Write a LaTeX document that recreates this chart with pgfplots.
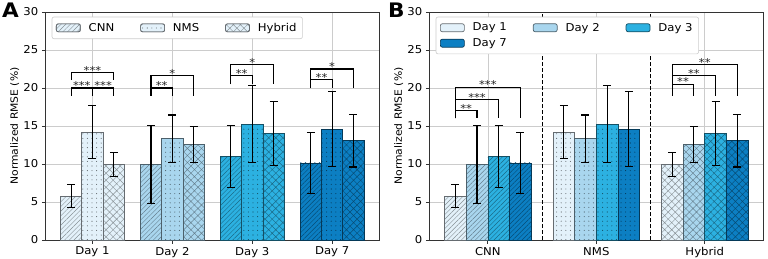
\documentclass[border=0pt]{standalone}
\usepackage{fontspec}
\setmainfont{DejaVu Sans}[FakeStretch=1.08]
\usepackage{pgfplots}
\pgfplotsset{compat=1.18}
\usetikzlibrary{patterns.meta}

\definecolor{dA}{HTML}{E3F1FA}
\definecolor{dB}{HTML}{A9D6EE}
\definecolor{dC}{HTML}{2CB1E1}
\definecolor{dD}{HTML}{0C7FC3}

\tikzset{
  pL/.style={postaction={pattern={Lines[angle=45,distance=3.3pt,line width=0.45pt]},pattern color=#1!60!black}},
  pD/.style={postaction={pattern={Dots[distance=4.6pt,radius=0.55pt]},pattern color=#1!45!black}},
  pX/.style={postaction={pattern={Hatch[angle=45,distance=5pt,line width=0.45pt]},pattern color=#1!60!black}},
  pN/.style={},
  sig/.style={font=\fontsize{10.8}{12}\selectfont, anchor=base, inner sep=0pt, yshift=-1.7pt, text=black!85},
}

\pgfplotsset{
  mybar/.style n args={3}{ybar, bar width=#2, bar shift=0pt, fill=#1, draw=#1!45!black, line width=0.7pt, #3=#1, forget plot,
    error bars/.cd, y dir=both, y explicit, error mark=|,
    error bar style={black,line width=1.1pt},
    error mark options={black,line width=1.1pt,mark size=4pt}},
  brk/.style={black, line width=1.1pt, forget plot, mark=none},
  panel/.style={scale only axis, width=334pt, height=228pt, anchor=south west,
    ymin=0, ymax=30, ytick={0,5,...,30},
    grid=major, major grid style={black!20, line width=0.6pt},
    axis line style={black!80, line width=0.8pt},
    tick align=outside, xtick pos=bottom, ytick pos=left,
    major tick length=3.5pt, tick style={black!80, line width=0.8pt},
    tick label style={font=\fontsize{10.8}{13}\selectfont},
    /pgf/number format/assume math mode=true,
    ylabel={Normalized RMSE (\%)},
    every axis y label/.style={at={(axis description cs:0,0.5)}, xshift=-30.6pt, rotate=90, anchor=center, font=\fontsize{10}{12}\selectfont},
    legend cell align=left,
    legend image code/.code={\draw[##1] (0pt,-4pt) rectangle (24pt,4pt);},
    legend style={at={(0,1)}, anchor=north west, xshift=6.4pt, yshift=-4.7pt,
      draw=black!20, rounded corners=2pt, fill=white, line width=0.6pt,
      font=\fontsize{10.8}{13}\selectfont, inner xsep=4pt, inner ysep=4pt, row sep=2pt,
      /tikz/every even column/.append style={column sep=24pt},
      /tikz/every odd column/.append style={column sep=6pt}},
  },
}

\begin{document}
\begin{tikzpicture}
\path[use as bounding box] (0,0) rectangle (768pt,258pt);

% ---------------- Panel A ----------------
\begin{axis}[panel, at={(45.3pt,18pt)},
  xmin=-0.59, xmax=3.59, xtick={0,1,2,3}, xticklabels={Day 1,Day 2,Day 3,Day 7},
  legend columns=3]
\addlegendimage{fill=dA, draw=dA!45!black, line width=0.7pt, pL=dA}\addlegendentry{CNN}
\addlegendimage{fill=dA, draw=dA!45!black, line width=0.7pt, pD=dA}\addlegendentry{NMS}
\addlegendimage{fill=dA, draw=dA!45!black, line width=0.7pt, pX=dA}\addlegendentry{Hybrid}
% Day 1
\addplot[mybar={dA}{0.2667}{pL}] coordinates {(-0.2667,5.75) +- (0,1.5)};
\addplot[mybar={dA}{0.2667}{pD}] coordinates {(0,14.2) +- (0,3.45)};
\addplot[mybar={dA}{0.2667}{pX}] coordinates {(0.2667,9.95) +- (0,1.55)};
% Day 2
\addplot[mybar={dB}{0.2667}{pL}] coordinates {(0.7333,9.95) +- (0,5.1)};
\addplot[mybar={dB}{0.2667}{pD}] coordinates {(1,13.35) +- (0,3.1)};
\addplot[mybar={dB}{0.2667}{pX}] coordinates {(1.2667,12.55) +- (0,2.4)};
% Day 3
\addplot[mybar={dC}{0.2667}{pL}] coordinates {(1.7333,11.0) +- (0,4.1)};
\addplot[mybar={dC}{0.2667}{pD}] coordinates {(2,15.25) +- (0,5.1)};
\addplot[mybar={dC}{0.2667}{pX}] coordinates {(2.2667,14.0) +- (0,4.2)};
% Day 7
\addplot[mybar={dD}{0.2667}{pL}] coordinates {(2.7333,10.15) +- (0,4.0)};
\addplot[mybar={dD}{0.2667}{pD}] coordinates {(3,14.6) +- (0,4.9)};
\addplot[mybar={dD}{0.2667}{pX}] coordinates {(3.2667,13.05) +- (0,3.45)};
% brackets Day 1
\addplot[brk] coordinates {(-0.2667,19)(-0.2667,20)(0.2667,20)(0.2667,19)};
\addplot[brk] coordinates {(0,19)(0,20)};
\addplot[brk] coordinates {(-0.2667,21.05)(-0.2667,22)(0.2667,22)(0.2667,21.05)};
\node[sig] at (axis cs:-0.1333,20) {***};
\node[sig] at (axis cs:0.1333,20) {***};
\node[sig] at (axis cs:0,22) {***};
% Day 2
\addplot[brk] coordinates {(0.7333,19)(0.7333,20)(1,20)(1,19)};
\addplot[brk] coordinates {(0.7333,19)(0.7333,21.6)(1.2667,21.6)(1.2667,19)};
\node[sig] at (axis cs:0.8667,20) {**};
\node[sig] at (axis cs:1,21.6) {*};
% Day 3
\addplot[brk] coordinates {(1.7333,20.5)(1.7333,21.6)(2,21.6)(2,20.5)};
\addplot[brk] coordinates {(1.7333,20.5)(1.7333,23.07)(2.2667,23.07)(2.2667,20.5)};
\node[sig] at (axis cs:1.8667,21.6) {**};
\node[sig] at (axis cs:2,23.07) {*};
% Day 7
\addplot[brk] coordinates {(2.7333,20)(2.7333,21.1)(3,21.1)(3,20)};
\addplot[brk] coordinates {(2.7333,20)(2.7333,22.5)(3.2667,22.5)(3.2667,20)};
\node[sig] at (axis cs:2.8667,21.1) {**};
\node[sig] at (axis cs:3,22.5) {*};
\end{axis}

% ---------------- Panel B ----------------
\begin{axis}[panel, at={(429.3pt,18pt)},
  xmin=-0.54, xmax=2.54, xtick={0,1,2}, xticklabels={CNN,NMS,Hybrid},
  legend columns=3]
\addlegendimage{fill=dA, draw=dA!45!black, line width=0.7pt}\addlegendentry{Day 1}
\addlegendimage{fill=dB, draw=dB!45!black, line width=0.7pt}\addlegendentry{Day 2}
\addlegendimage{fill=dC, draw=dC!45!black, line width=0.7pt}\addlegendentry{Day 3}
\addlegendimage{fill=dD, draw=dD!45!black, line width=0.7pt}\addlegendentry{Day 7}
\addplot[black, line width=1.1pt, dash pattern=on 4pt off 2pt, forget plot] coordinates {(0.5,0)(0.5,30)};
\addplot[black, line width=1.1pt, dash pattern=on 4pt off 2pt, forget plot] coordinates {(1.5,0)(1.5,30)};
% CNN
\addplot[mybar={dA}{0.2}{pL}] coordinates {(-0.3,5.75) +- (0,1.5)};
\addplot[mybar={dB}{0.2}{pL}] coordinates {(-0.1,9.95) +- (0,5.1)};
\addplot[mybar={dC}{0.2}{pL}] coordinates {(0.1,11.0) +- (0,4.1)};
\addplot[mybar={dD}{0.2}{pL}] coordinates {(0.3,10.15) +- (0,4.0)};
% NMS
\addplot[mybar={dA}{0.2}{pD}] coordinates {(0.7,14.2) +- (0,3.45)};
\addplot[mybar={dB}{0.2}{pD}] coordinates {(0.9,13.35) +- (0,3.1)};
\addplot[mybar={dC}{0.2}{pD}] coordinates {(1.1,15.25) +- (0,5.1)};
\addplot[mybar={dD}{0.2}{pD}] coordinates {(1.3,14.6) +- (0,4.9)};
% Hybrid
\addplot[mybar={dA}{0.2}{pX}] coordinates {(1.7,9.95) +- (0,1.55)};
\addplot[mybar={dB}{0.2}{pX}] coordinates {(1.9,12.55) +- (0,2.4)};
\addplot[mybar={dC}{0.2}{pX}] coordinates {(2.1,14.0) +- (0,4.2)};
\addplot[mybar={dD}{0.2}{pX}] coordinates {(2.3,13.05) +- (0,3.45)};
% brackets CNN
\addplot[brk] coordinates {(-0.3,16)(-0.3,17)(-0.1,17)(-0.1,16)};
\addplot[brk] coordinates {(-0.3,16)(-0.3,18.5)(0.1,18.5)(0.1,16)};
\addplot[brk] coordinates {(-0.3,16)(-0.3,20.1)(0.3,20.1)(0.3,16)};
\node[sig] at (axis cs:-0.2,17) {**};
\node[sig] at (axis cs:-0.1,18.5) {***};
\node[sig] at (axis cs:0,20.1) {***};
% brackets Hybrid
\addplot[brk] coordinates {(1.7,19)(1.7,20.5)(1.9,20.5)(1.9,19)};
\addplot[brk] coordinates {(1.7,19)(1.7,21.6)(2.1,21.6)(2.1,19)};
\addplot[brk] coordinates {(1.7,19)(1.7,23.07)(2.3,23.07)(2.3,19)};
\node[sig] at (axis cs:1.8,20.5) {**};
\node[sig] at (axis cs:1.9,21.6) {**};
\node[sig] at (axis cs:2,23.07) {**};
\end{axis}

\node[anchor=base west, inner sep=0pt, font=\fontsize{20}{24}\selectfont\bfseries] at (2pt,240.7pt) {A};
\node[anchor=base west, inner sep=0pt, font=\fontsize{20}{24}\selectfont\bfseries] at (388pt,240.7pt) {B};
\end{tikzpicture}
\end{document}
